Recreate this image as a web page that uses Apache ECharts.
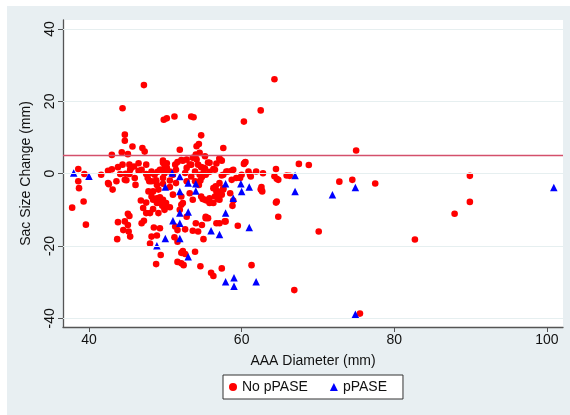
<!DOCTYPE html>
<html>
<head>
<meta charset="utf-8">
<script src="https://cdn.jsdelivr.net/npm/echarts@6/dist/echarts.min.js"></script>
<style>html,body{margin:0;padding:0;background:#fff}#c{width:570px;height:415px}</style>
</head>
<body>
<div id="c"></div>
<script>
// AAA diameter (mm) vs sac size change (mm)
var noPasePoints = [
 [47.2,24.5],[44.4,18.1],[49.8,14.9],[50.2,15.3],[51.2,15.8],[44.7,10.8],[44.7,9.1],[45.7,7.5],[47.0,7.1],[47.3,6.1],
 [51.9,6.6],[43.0,5.2],[45.1,5.4],[64.3,26.1],[62.5,17.5],[53.4,15.8],[53.7,15.6],[60.3,14.4],[54.7,10.6],[54.4,8.2],
 [54.1,7.6],[57.6,7.1],[54.0,5.3],[57.1,4.2],[57.4,3.6],[60.5,3.2],[60.3,2.7],[75.0,6.4],[44.3,5.9],[54.5,5.8],[55.2,4.8],
 [44.4,2.5],[45.3,2.5],[45.5,1.6],[46.5,2.9],[49.7,3.6],[49.9,2.5],[50.2,2.9],[51.6,3.2],[52.1,3.8],[38.6,1.3],
 [39.4,-0.1],[38.6,-2.1],[41.6,-0.3],[42.5,0.8],[43.0,1.2],[43.8,1.8],[44.1,-0.1],[45.3,-0.1],[46.0,-1.2],[46.5,0.8],
 [43.6,-2.1],[44.9,-1.8],[46.1,-3.1],[42.5,-2.6],[47.5,-0.1],[48.2,0.6],[48.6,-0.3],[49.0,0.5],[49.5,1.1],[49.9,0.1],
 [50.6,0.6],[51.0,-0.3],[51.4,1.1],[47.7,-1.2],[48.8,-1.8],[49.7,-1.2],[50.6,-1.9],[52.3,3.6],[52.8,1.6],[53.2,2.5],
 [53.6,4.4],[54.3,2.5],[54.7,1.8],[55.2,1.4],[55.8,3.0],[56.5,1.1],[55.8,0.5],[54.5,-0.3],[53.9,0.6],[57.4,-0.5],
 [58.0,0.6],[58.7,0.8],[60.0,-0.3],[59.8,-1.2],[60.9,0.6],[61.2,-0.8],[61.9,0.6],[62.8,0.1],[64.5,1.3],[64.6,-1.4],
 [64.8,-1.7],[65.9,-0.5],[67.5,2.7],[68.8,2.4],[52.6,0.2],[53.4,-0.8],[54.6,-1.9],[52.8,-2.1],[45.4,1.1],[45.9,2.0],
 [44.8,0.0],[44.7,-1.7],[46.9,1.1],[47.5,2.5],[48.2,0.2],[48.2,-2.1],[48.9,-3.1],[49.3,1.1],[49.7,3.0],[50.2,1.6],
 [51.3,2.5],[52.8,3.9],[53.4,2.5],[54.1,3.9],[55.0,0.2],[55.6,3.1],[56.3,1.3],[55.0,1.6],[56.7,2.8],[57.1,4.1],
 [55.3,-0.3],[54.8,-0.9],[57.6,-0.3],[58.2,0.6],[58.9,1.1],[59.3,-1.2],[58.7,-1.7],[60.4,3.0],[61.1,-0.3],[64.3,-0.7],
 [66.3,-0.6],
 [38.7,-4.0],[37.8,-9.4],[39.3,-7.7],[39.6,-14.1],[42.6,-2.9],[43.1,-4.4],[45.1,-11.1],[45.3,-11.7],[43.8,-13.4],[44.5,-15.6],
 [45.1,-14.2],[45.2,-16.0],[45.4,-17.4],[43.7,-18.1],[46.8,-7.4],[47.1,-9.5],[47.5,-10.9],[46.9,-13.7],[47.2,-13.0],[47.8,-4.9],
 [48.0,-10.9],[48.4,-7.2],[48.9,-8.1],[49.3,-6.5],[49.6,-8.9],[49.9,-10.0],[48.4,-9.8],[50.1,-8.1],[50.6,-9.3],[48.5,-14.9],
 [49.3,-15.1],[48.2,-17.4],[48.9,-17.1],[48.0,-19.3],[49.4,-22.5],[48.8,-25.0],[51.0,-5.8],[50.6,-3.7],[51.4,-2.6],[49.7,-2.8],
 [48.8,-2.1],[47.9,-2.1],[51.3,-14.6],[51.6,-15.6],[51.2,-17.6],[51.6,-18.8],[52.1,-21.9],[51.6,-24.4],[52.1,-24.8],[52.1,-8.6],
 [51.9,-10.0],[53.9,-2.1],[54.4,-3.1],[56.6,-3.5],[56.9,-4.9],[57.4,-5.8],[57.6,-4.0],[57.1,-2.6],[54.9,-7.0],[55.4,-7.4],
 [55.8,-6.8],[56.3,-8.1],[56.9,-7.0],[58.5,-5.4],[58.8,-8.9],[58.9,-7.4],[62.5,-4.3],[62.7,-4.9],[64.5,-8.0],[64.8,-11.9],
 [52.1,-6.3],[52.3,-8.1],[55.3,-12.3],[54.0,-13.7],[54.8,-14.2],[54.3,-16.0],[55.0,-18.1],[53.6,-15.8],[52.6,-15.4],[57.1,-13.7],
 [57.9,-13.2],[59.5,-14.4],[52.3,-21.4],[52.6,-22.2],[53.9,-21.6],[52.4,-25.3],[54.6,-25.6],[56.0,-27.4],[56.3,-28.3],[57.4,-26.2],
 [61.3,-25.3],[66.9,-32.2],[47.5,-8.0],[48.2,-6.3],[48.4,-4.9],[49.1,-4.4],[48.9,-6.8],[49.3,-8.1],[49.7,-7.2],[49.9,-9.5],
 [49.1,-10.9],[53.2,-5.4],[53.6,-7.2],[54.7,-6.3],[55.2,-7.2],[52.8,-11.9],[55.3,-11.9],[44.7,-13.2],[56.3,-4.0],[56.7,-4.9],
 [57.1,-5.4],[57.6,-4.4],[56.5,-6.3],[57.1,-7.2],[55.8,-8.1],[55.6,-12.3],[56.7,-13.7],[57.8,-13.2],[62.6,-3.7],[62.6,-4.6],
 [64.6,-7.7],
 [72.8,-2.2],[74.5,-1.7],[77.5,-2.7],[89.9,-0.6],[89.9,-7.8],[87.9,-11.1],[70.1,-16.0],[82.7,-18.2],[75.5,-38.7]
];
var pPasePoints = [
 [38.0,0.2],[40.0,-0.7],[50.9,0.2],[51.9,-0.8],[50.0,-3.7],[51.9,-4.9],[51.9,-10.9],[51.0,-13.0],[51.9,-13.7],[50.0,-17.9],
 [51.9,-17.9],[48.9,-19.9],[53.0,-2.6],[54.0,-2.8],[54.0,-4.8],[53.0,-10.6],[53.0,-23.0],[57.9,-2.8],[59.9,-2.8],[61.0,-3.7],
 [60.0,-4.9],[58.9,-6.8],[67.0,-4.9],[57.9,-10.9],[56.0,-15.8],[57.1,-16.8],[61.0,-14.9],[57.9,-29.9],[59.0,-28.8],[59.0,-31.1],
 [61.9,-29.9],[67.0,-0.5],[71.9,-5.8],[74.9,-3.8],[100.9,-3.8],[74.9,-38.9]
];
var xTicks = [40, 60, 80, 100];
var yTicks = [-40, -20, 0, 20, 40];
var referenceLine = 5;
var seriesNames = ['No pPASE', 'pPASE'];

var font = 'Liberation Sans, Arial, Helvetica, sans-serif';
var chart = echarts.init(document.getElementById('c'), null, {renderer: 'canvas'});
chart.setOption({
  backgroundColor: '#ffffff',
  animation: false,
  textStyle: {fontFamily: font},
  graphic: [{
    type: 'rect', z: -100, silent: true,
    shape: {x: 7, y: 6, width: 563, height: 409},
    style: {fill: '#e8eff2'}
  }],
  grid: {left: 63, right: 7, top: 20, bottom: 88, show: true, backgroundColor: '#ffffff', borderWidth: 0},
  xAxis: {
    type: 'value', min: 36.6, max: 102.1,
    name: 'AAA Diameter (mm)', nameLocation: 'middle', nameGap: 27,
    nameTextStyle: {fontSize: 14, color: '#111', fontFamily: font},
    axisLine: {show: true, onZero: false, lineStyle: {color: '#555', width: 1.3}},
    axisTick: {show: true, length: 5, customValues: xTicks, lineStyle: {color: '#555'}},
    axisLabel: {customValues: xTicks, fontSize: 14, color: '#111', margin: 6, fontFamily: font},
    splitLine: {show: false}
  },
  yAxis: {
    type: 'value', min: -42.4, max: 42.5,
    name: 'Sac Size Change (mm)', nameLocation: 'middle', nameGap: 30, nameRotate: 90,
    nameTextStyle: {fontSize: 14, color: '#111', fontFamily: font},
    axisLine: {show: true, onZero: false, lineStyle: {color: '#555', width: 1.3}},
    axisTick: {show: true, length: 5, customValues: yTicks, lineStyle: {color: '#555'}},
    axisLabel: {customValues: yTicks, fontSize: 14, color: '#111', rotate: 90, margin: 6, fontFamily: font},
    splitLine: {show: false}
  },
  legend: {
    left: 223, top: 375, orient: 'horizontal',
    backgroundColor: '#ffffff', borderColor: '#333', borderWidth: 1, borderRadius: 0,
    padding: [5, 16, 5, 6], itemGap: 22, itemWidth: 8, itemHeight: 8,
    textStyle: {fontSize: 14, color: '#111', fontFamily: font},
    data: [
      {name: seriesNames[0], icon: 'circle'},
      {name: seriesNames[1], icon: 'triangle'}
    ]
  },
  series: [
    {
      type: 'scatter', name: 'grid', data: [], silent: true, z: 1,
      markLine: {
        silent: true, symbol: ['none', 'none'], animation: false,
        label: {show: false},
        lineStyle: {color: '#e6eff0', width: 1.2, type: 'solid'},
        data: yTicks.map(function (v) { return {yAxis: v}; })
      }
    },
    {
      type: 'scatter', name: seriesNames[0], data: noPasePoints, z: 3,
      symbol: 'circle', symbolSize: 6.6,
      itemStyle: {color: '#ff0000', opacity: 1}
    },
    {
      type: 'scatter', name: seriesNames[1], data: pPasePoints, z: 4,
      symbol: 'triangle', symbolSize: 7.5,
      itemStyle: {color: '#0000ff', opacity: 1},
      markLine: {
        silent: true, symbol: ['none', 'none'], animation: false,
        label: {show: false},
        lineStyle: {color: '#d4506b', width: 1.3, type: 'solid'},
        data: [{yAxis: referenceLine}]
      }
    }
  ]
});
</script>
</body>
</html>
